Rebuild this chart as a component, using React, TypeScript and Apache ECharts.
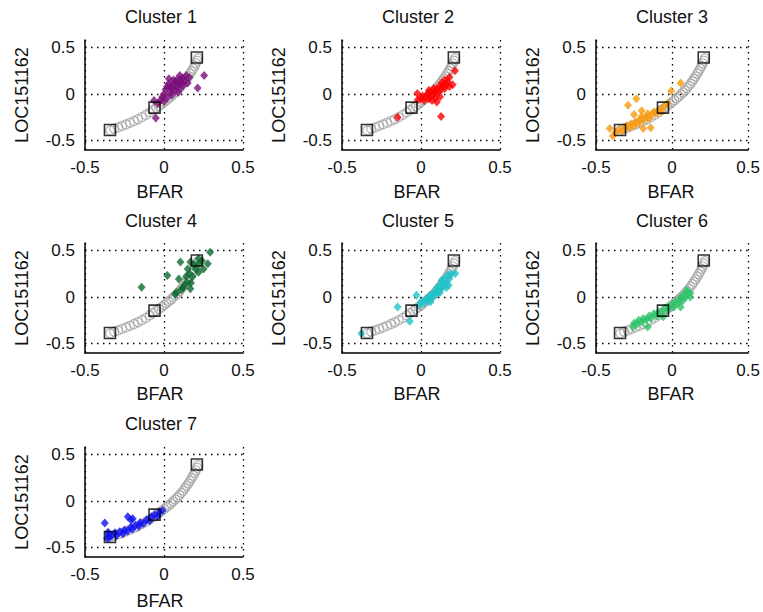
import React, { useEffect, useRef } from "react";
import * as echarts from "echarts";

const clusterTitles = ["Cluster 1", "Cluster 2", "Cluster 3", "Cluster 4", "Cluster 5", "Cluster 6", "Cluster 7"];
const clusterColors = ["#7a0f7a", "#ff0000", "#f79a10", "#0b6a2e", "#1ec3c8", "#2ec46a", "#1010f0"];
const xTickValues = [-0.5, 0, 0.5];
const yTickValues = [-0.5, 0, 0.5];
const xName = "BFAR";
const yName = "LOC151162";

// principal curve nodes (gray open circles)
const curvePoints: number[][] = [
  [-0.34, -0.39], [-0.315, -0.372], [-0.29, -0.358], [-0.265, -0.342], [-0.24, -0.326],
  [-0.215, -0.308], [-0.19, -0.289], [-0.165, -0.27], [-0.14, -0.248], [-0.115, -0.224],
  [-0.09, -0.196], [-0.07, -0.172], [-0.05, -0.148], [-0.032, -0.128], [-0.015, -0.106],
  [0.0, -0.086], [0.015, -0.066], [0.03, -0.046], [0.045, -0.026], [0.058, -0.004],
  [0.072, 0.018], [0.085, 0.04], [0.098, 0.064], [0.11, 0.088], [0.122, 0.112],
  [0.133, 0.138], [0.144, 0.164], [0.155, 0.19], [0.165, 0.218], [0.175, 0.246],
  [0.185, 0.274], [0.194, 0.302], [0.202, 0.33], [0.21, 0.358], [0.216, 0.385],
];

// black squares (cluster representatives on the curve)
const squarePoints: number[][] = [
  [-0.342, -0.385], [-0.06, -0.145], [0.208, 0.392],
];

const cluster1Points: number[][] = [
  [-0.052, -0.256], [-0.063, -0.07], [0.031, 0.163], [0.254, 0.199], [0.213, 0.066], [0.104, 0.163],
  [-0.04, -0.1], [-0.02, -0.06], [-0.01, -0.03], [0.0, 0.0], [0.01, 0.05], [0.02, 0.08], [0.02, -0.04],
  [0.03, 0.11], [0.04, 0.02], [0.05, 0.06], [0.05, -0.01], [0.06, 0.1], [0.07, 0.04], [0.07, 0.13],
  [0.08, 0.08], [0.09, 0.11], [0.09, 0.02], [0.1, 0.06], [0.11, 0.12], [0.12, 0.09], [0.12, 0.17],
  [0.13, 0.14], [0.14, 0.2], [0.15, 0.12], [0.16, 0.18], [0.08, 0.15], [0.04, 0.08], [0.0, -0.08],
  [0.06, 0.15], [0.1, 0.2],
];
const cluster2Points: number[][] = [
  [-0.148, -0.25], [-0.023, 0.005], [-0.02, -0.06], [0.0, -0.05], [0.01, -0.02], [0.02, -0.07],
  [0.03, -0.03], [0.04, 0.0], [0.05, -0.05], [0.06, -0.02], [0.06, 0.02], [0.07, -0.07], [0.08, 0.0],
  [0.09, 0.03], [0.09, -0.04], [0.1, 0.06], [0.1, -0.084], [0.11, 0.02], [0.12, 0.08], [0.12, -0.03],
  [0.13, 0.05], [0.13, 0.12], [0.14, 0.09], [0.15, 0.15], [0.15, 0.06], [0.16, 0.1], [0.17, 0.13],
  [0.18, 0.08], [0.18, 0.18], [0.2, 0.1], [0.215, 0.25], [0.127, -0.24], [0.08, 0.06], [0.05, 0.04],
];
const cluster3Points: number[][] = [
  [-0.41, -0.37], [-0.39, -0.45], [-0.235, -0.05], [-0.29, -0.12], [-0.19, -0.37], [-0.14, -0.36],
  [-0.006, 0.034], [0.056, 0.12], [-0.37, -0.41], [-0.35, -0.38], [-0.33, -0.4], [-0.31, -0.37],
  [-0.3, -0.34], [-0.28, -0.36], [-0.27, -0.32], [-0.25, -0.34], [-0.24, -0.3], [-0.22, -0.31],
  [-0.21, -0.27], [-0.2, -0.24], [-0.19, -0.28], [-0.17, -0.25], [-0.16, -0.21], [-0.15, -0.26],
  [-0.13, -0.22], [-0.12, -0.19], [-0.1, -0.2], [-0.08, -0.16], [-0.07, -0.19], [-0.05, -0.13],
  [-0.03, -0.1], [-0.2, -0.18], [-0.25, -0.22],
];
const cluster4Points: number[][] = [
  [-0.142, 0.106], [0.021, 0.231], [0.104, 0.375], [0.292, 0.482], [0.277, 0.357], [0.219, 0.267],
  [0.167, 0.088], [0.094, 0.195], [0.146, 0.16], [0.167, 0.375], [0.24, 0.39], [0.2, 0.3],
  [0.18, 0.22], [0.16, 0.25], [0.13, 0.13], [0.11, 0.08], [0.08, 0.05], [0.07, 0.03], [0.15, 0.3],
  [0.19, 0.35], [0.22, 0.36], [0.25, 0.3], [0.17, 0.15], [0.14, 0.22], [0.219, 0.41], [0.12, 0.1],
];
const cluster5Points: number[][] = [
  [-0.377, -0.392], [-0.148, -0.106], [-0.071, -0.26], [-0.029, 0.02], [0.217, 0.253], [0.175, 0.127],
  [-0.01, -0.09], [0.0, -0.05], [0.02, -0.06], [0.03, -0.02], [0.04, -0.04], [0.05, 0.0], [0.06, 0.02],
  [0.07, -0.01], [0.08, 0.04], [0.09, 0.06], [0.1, 0.03], [0.1, 0.1], [0.11, 0.08], [0.12, 0.13],
  [0.13, 0.1], [0.13, 0.18], [0.14, 0.16], [0.15, 0.2], [0.16, 0.14], [0.17, 0.24], [0.18, 0.2],
  [0.19, 0.25], [0.16, 0.1], [0.06, -0.05], [0.12, 0.05],
];
const cluster6Points: number[][] = [
  [-0.256, -0.32], [-0.16, -0.32], [-0.058, -0.21], [0.056, -0.106], [0.119, 0.0], [0.098, 0.073],
  [-0.25, -0.28], [-0.23, -0.29], [-0.22, -0.25], [-0.2, -0.27], [-0.19, -0.23], [-0.17, -0.24],
  [-0.15, -0.2], [-0.14, -0.23], [-0.12, -0.18], [-0.1, -0.2], [-0.09, -0.16], [-0.07, -0.17],
  [-0.05, -0.12], [-0.03, -0.14], [-0.02, -0.1], [0.0, -0.08], [0.01, -0.11], [0.02, -0.05],
  [0.04, -0.06], [0.05, -0.02], [0.06, 0.0], [0.07, -0.04], [0.08, 0.03], [0.09, 0.0], [0.1, 0.05],
  [0.12, 0.04],
];
const cluster7Points: number[][] = [
  [-0.375, -0.235], [-0.229, -0.169], [-0.198, -0.19], [-0.354, -0.335], [-0.344, -0.39], [-0.35, -0.36],
  [-0.33, -0.37], [-0.31, -0.34], [-0.3, -0.37], [-0.28, -0.33], [-0.26, -0.35], [-0.25, -0.31],
  [-0.23, -0.32], [-0.21, -0.28], [-0.2, -0.3], [-0.18, -0.26], [-0.16, -0.27], [-0.15, -0.23],
  [-0.13, -0.24], [-0.11, -0.2], [-0.09, -0.21], [-0.08, -0.17], [-0.06, -0.15], [-0.04, -0.16],
  [-0.03, -0.12], [-0.01, -0.1], [-0.21, -0.2], [-0.36, -0.4],
];
const clusterPoints = [
  cluster1Points, cluster2Points, cluster3Points, cluster4Points,
  cluster5Points, cluster6Points, cluster7Points,
];

const FONT = "'Liberation Sans', Arial, Helvetica, sans-serif";
const colLefts = [85, 342, 596];
const rowTops = [40, 243, 447];
const rowNameY = [192, 394, 601];
const titleY = [17, 221, 424];
const GRID_W = 158;
const GRID_H = 110;

function buildOption() {
  const grids: any[] = [];
  const xAxes: any[] = [];
  const yAxes: any[] = [];
  const series: any[] = [];
  const graphics: any[] = [];
  const dotted = { color: "#000", width: 1.3, type: [1.5, 4.5] };
  clusterTitles.forEach((title, i) => {
    const col = i % 3;
    const row = Math.floor(i / 3);
    const left = colLefts[col];
    const top = rowTops[row];
    grids.push({ left, top, width: GRID_W, height: GRID_H, containLabel: false });
    xAxes.push({
      gridIndex: i,
      type: "value",
      min: -0.5,
      max: 0.5,
      interval: 0.5,
      axisLine: { show: true, onZero: false, lineStyle: { color: "#000", width: 1.5 } },
      axisTick: { show: false },
      axisLabel: { color: "#111", fontFamily: FONT, fontSize: 17, margin: 9, showMinLabel: true, showMaxLabel: true },
      splitLine: { show: true, lineStyle: dotted },
    });
    yAxes.push({
      gridIndex: i,
      type: "value",
      min: -0.6,
      max: 0.58,
      axisLine: { show: true, onZero: false, lineStyle: { color: "#000", width: 1.5 } },
      axisTick: { show: false, customValues: yTickValues },
      axisLabel: { color: "#111", fontFamily: FONT, fontSize: 17, margin: 10, customValues: yTickValues },
      splitLine: { show: true, lineStyle: dotted },
    });
    series.push({
      type: "scatter",
      xAxisIndex: i,
      yAxisIndex: i,
      symbol: "circle",
      symbolSize: 9,
      silent: true,
      itemStyle: { color: "rgba(255,255,255,0)", borderColor: "#a3a3a3", borderWidth: 1.2 },
      data: curvePoints,
      z: 2,
    });
    series.push({
      type: "scatter",
      xAxisIndex: i,
      yAxisIndex: i,
      symbol: "diamond",
      symbolSize: [8, 9],
      silent: true,
      itemStyle: { color: clusterColors[i] },
      data: clusterPoints[i],
      z: 3,
    });
    series.push({
      type: "scatter",
      xAxisIndex: i,
      yAxisIndex: i,
      symbol: "rect",
      symbolSize: 11,
      silent: true,
      itemStyle: { color: "rgba(255,255,255,0)", borderColor: "#000", borderWidth: 1.6 },
      data: squarePoints,
      z: 4,
    });
    const cx = left + GRID_W / 2;
    graphics.push({
      type: "text",
      x: cx - 3,
      y: titleY[row],
      style: { text: title, font: `18px ${FONT}`, fill: "#111", textAlign: "center", textVerticalAlign: "middle" },
    });
    graphics.push({
      type: "text",
      x: cx - 4,
      y: rowNameY[row],
      style: { text: xName, font: `18px ${FONT}`, fill: "#111", textAlign: "center", textVerticalAlign: "middle" },
    });
    graphics.push({
      type: "text",
      x: left - 63,
      y: top + GRID_H / 2,
      rotation: Math.PI / 2,
      style: { text: yName, font: `18px ${FONT}`, fill: "#111", textAlign: "center", textVerticalAlign: "middle" },
    });
  });
  return {
    animation: false,
    backgroundColor: "#fff",
    grid: grids,
    xAxis: xAxes,
    yAxis: yAxes,
    series,
    graphic: graphics,
  };
}

export default function App() {
  const ref = useRef<HTMLDivElement>(null);
  useEffect(() => {
    if (!ref.current) return;
    const chart = echarts.init(ref.current, undefined, { renderer: "svg" });
    chart.setOption(buildOption() as any);
    return () => chart.dispose();
  }, []);
  return <div ref={ref} style={{ width: 763, height: 612, position: "absolute", left: 0, top: 0 }} />;
}
